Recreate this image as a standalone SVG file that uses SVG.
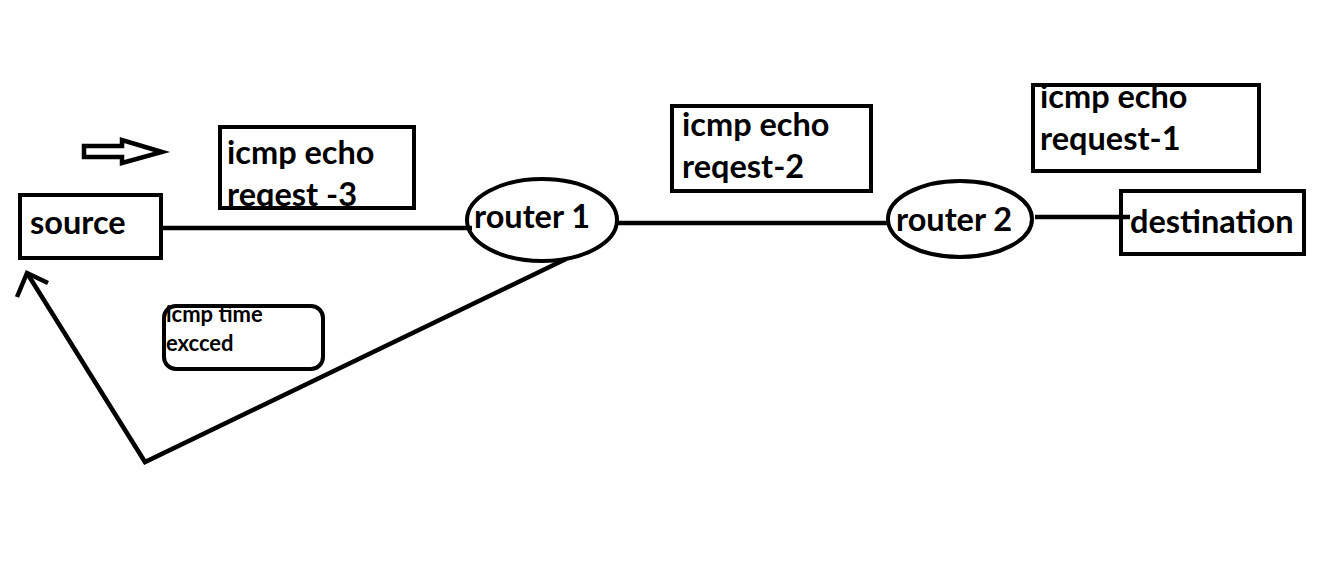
<svg xmlns="http://www.w3.org/2000/svg" width="1341" height="569" viewBox="0 0 1341 569">
<style>
.box{fill:none;stroke:#000;stroke-width:4}
.ln{fill:none;stroke:#000;stroke-width:4.5;stroke-linejoin:miter}
.t{font-family:Lato,"Open Sans",sans-serif;font-weight:bold;font-size:32.5px;fill:#000}
.s{font-family:Lato,"Open Sans",sans-serif;font-weight:bold;font-size:22px;fill:#000}
</style>
<defs>
<clipPath id="c3"><rect x="220" y="127" width="194" height="80"/></clipPath>
</defs>
<rect width="1341" height="569" fill="#fff"/>
<g id="connectors">
<line class="ln" x1="162" y1="228" x2="472" y2="228"/>
<line class="ln" x1="618" y1="223" x2="890" y2="223"/>
<line class="ln" x1="1035" y1="217" x2="1130" y2="217"/>
<polyline class="ln" points="566,259 145,462 27,273"/>
<polyline class="ln" points="17,297 27,273 48,283"/>
</g>
<g id="hollow-arrow">
<polygon class="ln" points="84,146 122,146 122,140 162,152 122,163 122,157 84,157"/>
</g>
<g id="source">
<rect class="box" x="20" y="195" width="141" height="63"/>
<text class="t" x="30" y="234">source</text>
</g>
<g id="label-3">
<text class="t" x="227" y="164">icmp echo</text>
<text class="t" x="227" y="206" clip-path="url(#c3)">reqest -3</text>
<rect class="box" x="220" y="127" width="194" height="81"/>
</g>
<g id="router1">
<ellipse class="box" cx="542" cy="220" rx="75" ry="41"/>
<text class="t" x="474" y="228">router 1</text>
</g>
<g id="label-2">
<rect class="box" x="672" y="106" width="199" height="85"/>
<text class="t" x="682" y="136">icmp echo</text>
<text class="t" x="682" y="178">reqest-2</text>
</g>
<g id="router2">
<ellipse class="box" cx="960" cy="219" rx="72" ry="38"/>
<text class="t" x="896" y="231">router 2</text>
</g>
<g id="destination">
<rect class="box" x="1121" y="191" width="183" height="63"/>
<text class="t" x="1130" y="233">destination</text>
</g>
<g id="label-1">
<rect class="box" x="1033" y="85" width="226" height="86"/>
<text class="t" x="1040" y="108">icmp echo</text>
<text class="t" x="1040" y="150">request-1</text>
</g>
<g id="time-exceeded">
<rect class="box" x="164" y="306" width="159" height="63" rx="12"/>
<text class="s" x="166" y="322">icmp time</text>
<text class="s" x="166" y="351">excced</text>
</g>
</svg>
